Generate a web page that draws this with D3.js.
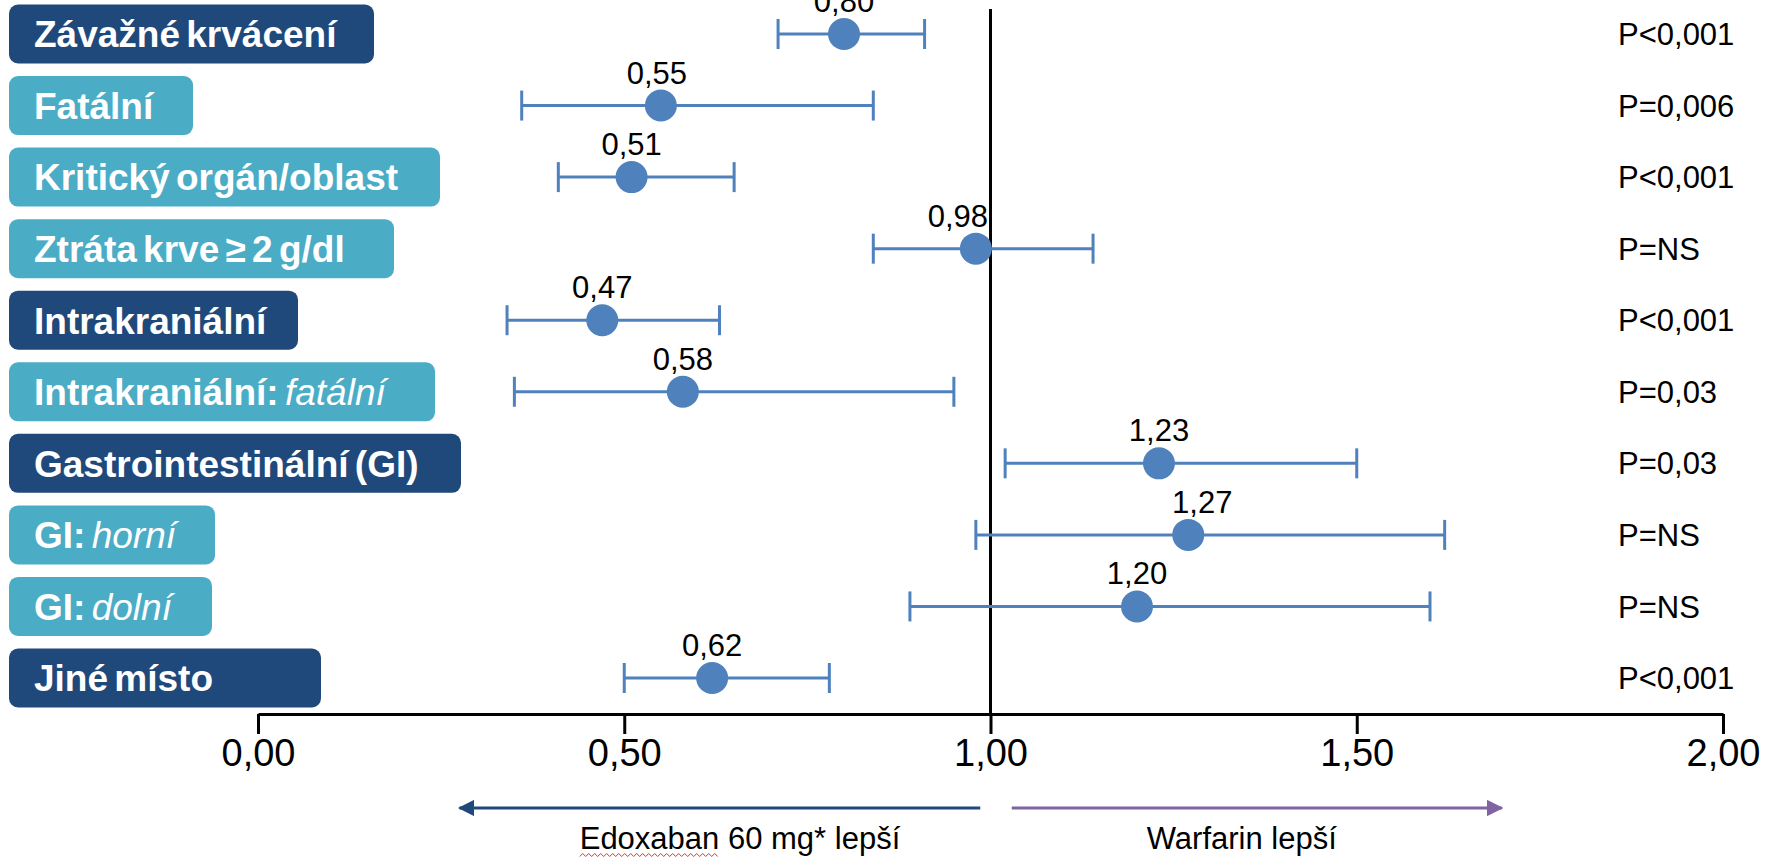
<!DOCTYPE html>
<html>
<head>
<meta charset="utf-8">
<script src="https://cdn.jsdelivr.net/npm/d3@7"></script>
<style>
  html, body { margin: 0; padding: 0; background: #ffffff; }
  svg { display: block; }
</style>
</head>
<body>
<svg id="chart" width="1777" height="858"></svg>
<script>
// ---------------- DATA ----------------
const categories = [
  "Závažné krvácení",
  "Fatální",
  "Kritický orgán/oblast",
  "Ztráta krve ≥ 2 g/dl",
  "Intrakraniální",
  "Intrakraniální: fatální",
  "Gastrointestinální (GI)",
  "GI: horní",
  "GI: dolní",
  "Jiné místo"
];
// part of each category name that is set in italics (at the end of the name)
const italicPart = ["", "", "", "", "", "fatální", "", "horní", "dolní", ""];
// main category (dark box) vs. subcategory (light box)
const categoryLevel = ["main", "sub", "sub", "sub", "main", "sub", "main", "sub", "sub", "main"];
const hazardRatio = [0.80, 0.55, 0.51, 0.98, 0.47, 0.58, 1.23, 1.27, 1.20, 0.62];
const ciLow  = [0.71, 0.36, 0.41, 0.84, 0.34, 0.35, 1.02, 0.98, 0.89, 0.50];
const ciHigh = [0.91, 0.84, 0.65, 1.14, 0.63, 0.95, 1.50, 1.62, 1.60, 0.78];
const pValues = ["P<0,001", "P=0,006", "P<0,001", "P=NS", "P<0,001", "P=0,03", "P=0,03", "P=NS", "P=NS", "P<0,001"];
const xTicks = [0, 0.5, 1, 1.5, 2];
const leftArrowLabel = "Edoxaban 60 mg* lepší";
const rightArrowLabel = "Warfarin lepší";

// ---------------- LAYOUT / STYLE ----------------
const W = 1777, H = 858;
const boxRight = [374, 193, 440, 394, 298, 435, 461, 215, 212, 321]; // label box right edges
const valueLabelShift = [0, -4, 0, -18, 0, 0, 0, 14, 0, 0];        // small horizontal nudges of value labels
const levelColor = { main: "#20497B", sub: "#4BACC6" };
const pointColor = "#4F81BD";
const font = "'Liberation Sans', Arial, sans-serif";
const commaFmt = v => d3.format(".2f")(v).replace(".", ",");

const svg = d3.select("#chart");
const x = d3.scaleLinear().domain([0, 2]).range([258, 1723]);
const y = d3.scalePoint().domain(categories).range([34, 678]);
const axisY = 714;

const rows = categories.map((c, i) => ({
  cat: c, ital: italicPart[i], level: categoryLevel[i],
  hr: hazardRatio[i], lo: ciLow[i], hi: ciHigh[i], p: pValues[i],
  right: boxRight[i], shift: valueLabelShift[i]
}));

// label boxes
const lab = svg.append("g").selectAll("g").data(rows).join("g");
lab.append("rect")
  .attr("x", 9).attr("y", d => y(d.cat) - 29.5)
  .attr("width", d => d.right - 9).attr("height", 59)
  .attr("rx", 9).attr("ry", 9)
  .attr("fill", d => levelColor[d.level]);
const lt = lab.append("text")
  .attr("x", 34).attr("y", d => y(d.cat)).attr("dy", "0.36em")
  .attr("fill", "#ffffff")
  .style("font-family", font).style("font-size", "37px").style("font-weight", "bold")
  .style("word-spacing", "-4px");
lt.append("tspan").text(d => d.ital ? d.cat.slice(0, d.cat.length - d.ital.length) : d.cat);
lt.filter(d => d.ital).append("tspan")
  .style("font-style", "italic").style("font-weight", "normal")
  .text(d => d.ital);

// reference line at 1
svg.append("line")
  .attr("x1", x(1)).attr("x2", x(1)).attr("y1", 9).attr("y2", axisY)
  .attr("stroke", "#000").attr("stroke-width", 3);

// axis
const axis = d3.axisBottom(x).tickValues(xTicks).tickSize(20).tickSizeOuter(0)
  .tickPadding(5).tickFormat(commaFmt);
const ag = svg.append("g").attr("transform", `translate(0,${axisY})`).call(axis);
ag.select(".domain").attr("stroke", "#000").attr("stroke-width", 3);
ag.selectAll(".tick line").attr("stroke", "#000").attr("stroke-width", 3);
ag.selectAll(".tick text").attr("fill", "#000")
  .style("font-family", font).style("font-size", "38px");

// error bars
const eb = svg.append("g").selectAll("g").data(rows).join("g")
  .attr("stroke", pointColor).attr("stroke-width", 3);
eb.append("line").attr("x1", d => x(d.lo)).attr("x2", d => x(d.hi))
  .attr("y1", d => y(d.cat)).attr("y2", d => y(d.cat));
eb.append("line").attr("x1", d => x(d.lo)).attr("x2", d => x(d.lo))
  .attr("y1", d => y(d.cat) - 15).attr("y2", d => y(d.cat) + 15);
eb.append("line").attr("x1", d => x(d.hi)).attr("x2", d => x(d.hi))
  .attr("y1", d => y(d.cat) - 15).attr("y2", d => y(d.cat) + 15);

// points
svg.append("g").selectAll("circle").data(rows).join("circle")
  .attr("cx", d => x(d.hr)).attr("cy", d => y(d.cat)).attr("r", 16)
  .attr("fill", pointColor);

// value labels
svg.append("g").selectAll("text").data(rows).join("text")
  .attr("x", d => x(d.hr) + d.shift).attr("y", d => y(d.cat) - 22)
  .attr("text-anchor", "middle").attr("fill", "#000")
  .style("font-family", font).style("font-size", "31px")
  .text(d => commaFmt(d.hr));

// p-values
svg.append("g").selectAll("text").data(rows).join("text")
  .attr("x", 1618).attr("y", d => y(d.cat)).attr("dy", "0.36em")
  .attr("fill", "#000")
  .style("font-family", font).style("font-size", "31px")
  .text(d => d.p);

// direction arrows
const defs = svg.append("defs");
function marker(id, color) {
  defs.append("marker").attr("id", id)
    .attr("viewBox", "0 0 10 10").attr("refX", 9).attr("refY", 5)
    .attr("markerWidth", 5.5).attr("markerHeight", 5.5).attr("markerUnits", "strokeWidth")
    .attr("orient", "auto")
    .append("path").attr("d", "M0,0 L10,5 L0,10 Z").attr("fill", color);
}
marker("arrL", "#20497B");
marker("arrR", "#8064A2");
const arrowY = 808;
svg.append("line").attr("x1", x(0.986)).attr("x2", x(0.275)).attr("y1", arrowY).attr("y2", arrowY)
  .attr("stroke", "#20497B").attr("stroke-width", 3).attr("marker-end", "url(#arrL)");
svg.append("line").attr("x1", x(1.029)).attr("x2", x(1.698)).attr("y1", arrowY).attr("y2", arrowY)
  .attr("stroke", "#8064A2").attr("stroke-width", 3).attr("marker-end", "url(#arrR)");

const leftText = svg.append("text").attr("x", x(0.658)).attr("y", 849)
  .attr("text-anchor", "middle").attr("fill", "#000")
  .style("font-family", font).style("font-size", "31px").text(leftArrowLabel);
svg.append("text").attr("x", x(1.343)).attr("y", 849)
  .attr("text-anchor", "middle").attr("fill", "#000")
  .style("font-family", font).style("font-size", "31px").text(rightArrowLabel);

// red spell-check squiggle under the first word
const bb = leftText.node().getBBox();
const firstWordW = leftText.node().getSubStringLength(0, 8);
let zz = "";
for (let px = 0, k = 0; px <= firstWordW; px += 3, k++) {
  zz += (k === 0 ? "M" : "L") + (bb.x + px) + "," + (855 + (k % 2 ? -1.5 : 1.5));
}
svg.append("path").attr("d", zz).attr("fill", "none").attr("stroke", "#e03030").attr("stroke-width", 1);
</script>
</body>
</html>
